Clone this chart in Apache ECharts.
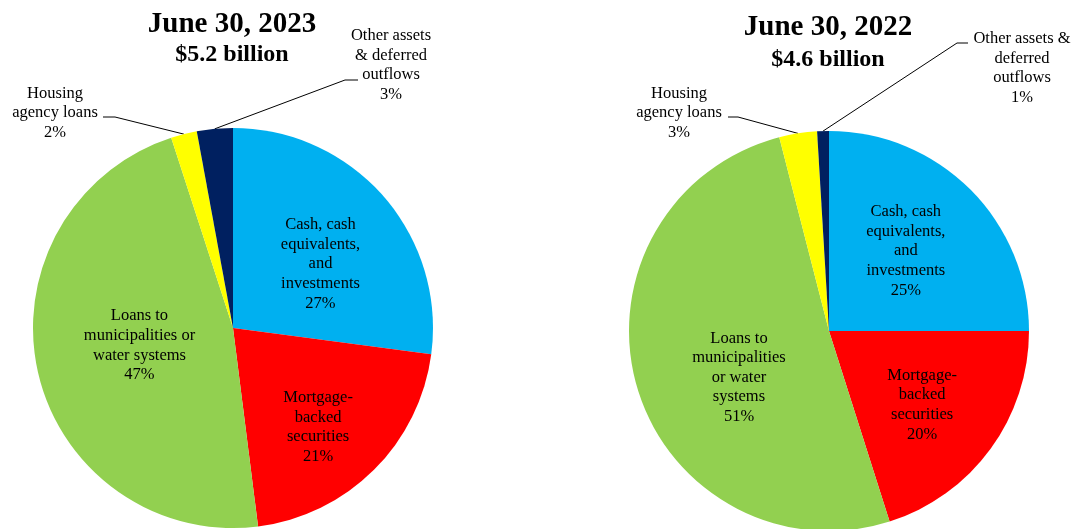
<!DOCTYPE html>
<html><head><meta charset="utf-8">
<script src="https://cdn.jsdelivr.net/npm/echarts@6/dist/echarts.min.js"></script>
<style>html,body{margin:0;padding:0;background:#fff}#c{width:1078px;height:529px}</style>
</head><body><div id="c"></div>
<script>
// ---- data ----
const categories = ['Cash, cash equivalents, and investments', 'Mortgage-backed securities', 'Loans to municipalities or water systems', 'Housing agency loans', 'Other assets & deferred outflows'];
const values2023 = [27.1, 20.9, 47.0, 2.1, 2.9];
const values2022 = [25.0, 20.1, 50.9, 3.05, 0.95];
const labels2023 = ['Cash, cash\nequivalents,\nand\ninvestments', 'Mortgage-\nbacked\nsecurities', 'Loans to\nmunicipalities or\nwater systems', 'Housing\nagency loans', 'Other assets\n& deferred\noutflows'];
const labels2022 = ['Cash, cash\nequivalents,\nand\ninvestments', 'Mortgage-\nbacked\nsecurities', 'Loans to\nmunicipalities\nor water\nsystems', 'Housing\nagency loans', 'Other assets &\ndeferred\noutflows'];
const titles = ['June 30, 2023', 'June 30, 2022'];
const subtitles = ['$5.2 billion', '$4.6 billion'];

// ---- styles / layout ----
const colors = ['#00B0F0', '#FF0000', '#92D050', '#FFFF00', '#002060'];
const FONT = '"Liberation Serif", "Times New Roman", serif';
const layouts = [
  { center: [233, 328], radius: 200, titleX: 232, titleTop: 10, gap: 4,
    inside: { 0: [10, 4], 1: [12.5, 26], 2: [7, -5] },
    outside: { 3: { pos: [55, 113], elbow: [115, 117], end: [103, 117] },
               4: { pos: [391, 65], elbow: [345, 80], end: [358, 80] } } },
  { center: [829, 331], radius: 200, titleX: 828, titleTop: 13, gap: 5.5,
    inside: { 0: [4, -7], 1: [10, 13], 2: [9, 18] },
    outside: { 3: { pos: [679, 113], elbow: [738, 117], end: [728, 117] },
               4: { pos: [1022, 68], elbow: [957, 43], end: [968, 43] } } }
];
const datasets = [[values2023, labels2023], [values2022, labels2022]];

function makeSeries(k) {
  const L = layouts[k];
  const vals = datasets[k][0], labs = datasets[k][1];
  return {
    type: 'pie',
    center: L.center,
    radius: L.radius,
    startAngle: 90,
    clockwise: true,
    avoidLabelOverlap: false,
    animation: false,
    silent: true,
    itemStyle: { borderWidth: 0 },
    data: vals.map((v, i) => ({
      name: categories[i],
      value: v,
      itemStyle: { color: colors[i] },
      label: { position: L.outside[i] ? 'outside' : 'inside' },
      labelLine: { show: !!L.outside[i] }
    })),
    label: {
      show: true,
      color: '#000',
      fontFamily: FONT,
      fontSize: 16.5,
      lineHeight: 19.6,
      align: 'center',
      overflow: 'none',
      formatter: p => labs[p.dataIndex] + '\n' + Math.round(p.percent) + '%'
    },
    labelLine: { show: true, lineStyle: { color: '#000', width: 1 }, length: 10, length2: 10, smooth: false },
    labelLayout: function (p) {
      const i = p.dataIndex;
      const o = L.outside[i];
      if (o) {
        let start = p.labelLinePoints && p.labelLinePoints[0];
        if (!start) start = [L.center[0], L.center[1] - L.radius];
        return { x: o.pos[0], y: o.pos[1], align: 'center', verticalAlign: 'middle',
                 labelLinePoints: [start, o.elbow, o.end] };
      }
      const d = L.inside[i] || [0, 0];
      const r = p.labelRect;
      return { x: r.x + r.width / 2 + d[0], y: r.y + r.height / 2 + d[1], align: 'center', verticalAlign: 'middle' };
    }
  };
}

const chart = echarts.init(document.getElementById('c'), null, { renderer: 'canvas' });
chart.setOption({
  backgroundColor: '#fff',
  animation: false,
  title: layouts.map((L, k) => ({
    text: titles[k],
    subtext: subtitles[k],
    left: L.titleX,
    top: L.titleTop,
    textAlign: 'center',
    itemGap: L.gap,
    padding: 0,
    textStyle: { fontFamily: FONT, fontWeight: 'bold', fontSize: 29, lineHeight: 29, color: '#000' },
    subtextStyle: { fontFamily: FONT, fontWeight: 'bold', fontSize: 24, lineHeight: 24, color: '#000' }
  })),
  series: [makeSeries(0), makeSeries(1)]
});
</script>
</body></html>
